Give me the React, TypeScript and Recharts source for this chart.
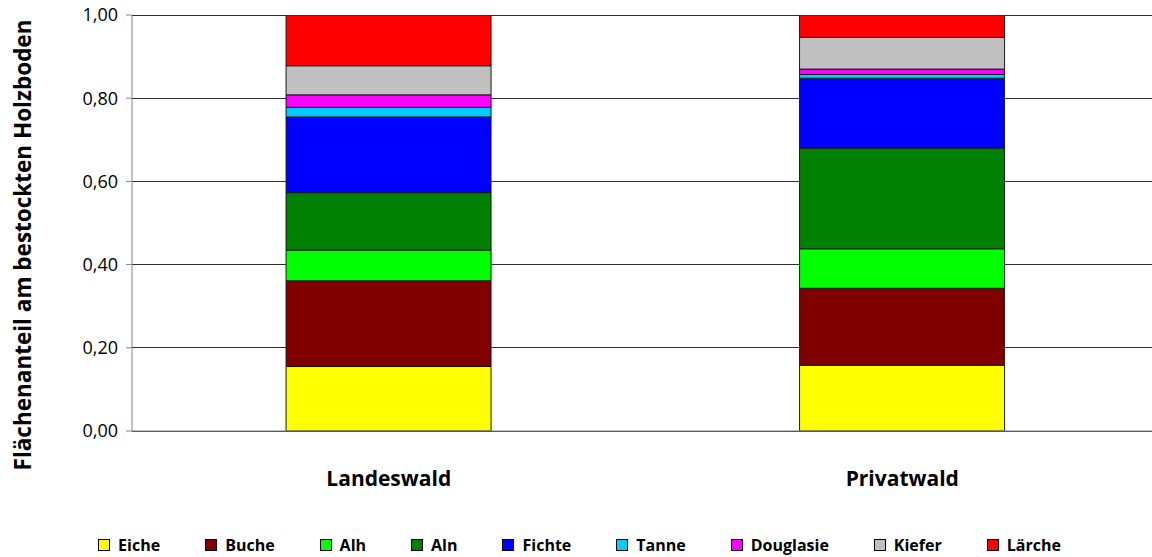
import { BarChart, Bar, XAxis, YAxis, CartesianGrid, Legend } from "recharts";

const categories = ["Landeswald", "Privatwald"];

// Flächenanteile je Baumartengruppe (von unten nach oben gestapelt)
const eiche = [0.155, 0.158];
const buche = [0.206, 0.185];
const alh = [0.074, 0.095];
const aln = [0.138, 0.242];
const fichte = [0.182, 0.168];
const tanne = [0.023, 0.009];
const douglasie = [0.03, 0.013];
const kiefer = [0.07, 0.076];
const laerche = [0.122, 0.054];

const yTicks = [0, 0.2, 0.4, 0.6, 0.8, 1.0];

const series = [
  { key: "Eiche", values: eiche, color: "#FFFF00" },
  { key: "Buche", values: buche, color: "#800000" },
  { key: "Alh", values: alh, color: "#00FF00" },
  { key: "Aln", values: aln, color: "#008000" },
  { key: "Fichte", values: fichte, color: "#0000FF" },
  { key: "Tanne", values: tanne, color: "#00CCFF" },
  { key: "Douglasie", values: douglasie, color: "#FF00FF" },
  { key: "Kiefer", values: kiefer, color: "#C0C0C0" },
  { key: "Lärche", values: laerche, color: "#FF0000" },
];

const data = categories.map((name, i) => {
  const row: Record<string, number | string> = { name };
  series.forEach(s => { row[s.key] = s.values[i]; });
  return row;
});

const FONT = "'Open Sans', sans-serif";

function LegendContent() {
  return (
    <div style={{ display: "flex", justifyContent: "center", gap: 45, fontFamily: FONT, fontWeight: 700, fontSize: 16, color: "#000", lineHeight: "24px" }}>
      {series.map(s => (
        <div key={s.key} style={{ display: "flex", alignItems: "center", gap: 8 }}>
          <span style={{ width: 10, height: 10, background: s.color, border: "1px solid #000", display: "inline-block" }} />
          <span>{s.key}</span>
        </div>
      ))}
    </div>
  );
}

export default function App() {
  return (
    <div style={{ position: "absolute", left: 0, top: 0, width: 1152, height: 557, overflow: "hidden", background: "#fff" }}>
      <BarChart width={1160} height={557} data={data} margin={{ top: 15, right: 1, left: 0, bottom: 0 }} barCategoryGap="30%">
        <CartesianGrid horizontal vertical={false} stroke="#2e2e2e" strokeWidth={1} shapeRendering="crispEdges" />
        <XAxis
          dataKey="name"
          axisLine={{ stroke: "#868686" }}
          tickLine={false}
          height={102}
          tickMargin={34}
          tick={{ fill: "#000", fontFamily: FONT, fontWeight: 700, fontSize: 21 }}
        />
        <YAxis
          width={132}
          domain={[0, 1]}
          ticks={yTicks}
          allowDataOverflow
          tickFormatter={(v: number) => v.toFixed(2).replace(".", ",")}
          axisLine={{ stroke: "#868686" }}
          tickLine={{ stroke: "#868686" }}
          tickSize={6}
          tickMargin={8}
          tick={{ fill: "#000", fontFamily: FONT, fontSize: 18 }}
          label={{
            content: () => (
              <text x={22} y={245} transform="rotate(-90 22 245)" textAnchor="middle" dominantBaseline="central" fontFamily={FONT} fontWeight={700} fontSize={22.5} fill="#000">
                Flächenanteil am bestockten Holzboden
              </text>
            ),
          }}
        />
        <Legend verticalAlign="bottom" content={<LegendContent />} wrapperStyle={{ bottom: 0 }} />
        {series.map(s => (
          <Bar key={s.key} dataKey={s.key} stackId="a" fill={s.color} stroke="#1a1a1a" strokeWidth={1} isAnimationActive={false} />
        ))}
      </BarChart>
    </div>
  );
}
